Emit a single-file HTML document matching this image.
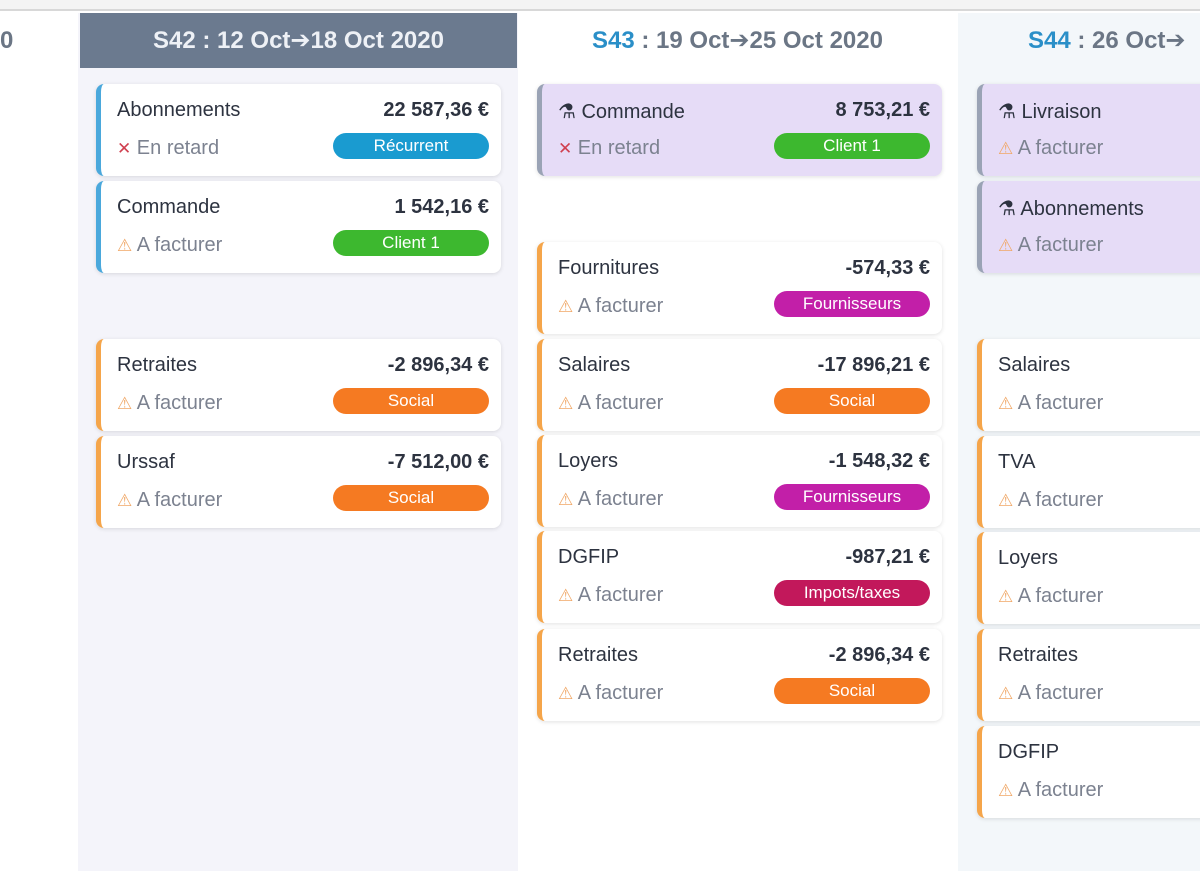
<!DOCTYPE html>
<html><head><meta charset="utf-8"><style>
*{box-sizing:border-box;margin:0;padding:0}
body{width:1200px;height:871px;overflow:hidden;background:#fff;font-family:"Liberation Sans","DejaVu Sans",sans-serif;position:relative}
.top{position:absolute;left:0;top:0;width:1200px;height:11px;background:#f4f4f4;border-bottom:2px solid #d8d8d8}
.col{position:absolute;top:13px;height:858px}
.hd{position:absolute;top:13px;height:55px;line-height:55px;font-size:24px;font-weight:bold;text-align:center;color:#6b7685}
.hd b{color:#2a8fc8}
.card{position:absolute;height:92px;background:#fff;border-radius:8px;border-left:5px solid #f5a54a;box-shadow:0 1px 4px rgba(0,0,0,.12)}
.card.blue{border-left-color:#4aa8dc}
.card.pur{background:#e6dcf7;border-left-color:#9aa3b5}
.t{position:absolute;left:16px;top:15px;font-size:20px;color:#2d3340}
.a{position:absolute;right:12px;top:15px;font-size:20px;font-weight:bold;color:#2d3340}
.s{position:absolute;left:16px;top:53px;font-size:20px;color:#7c8290}
.s i{font-style:normal;color:#f0a868;font-size:17px}
.s i.x{color:#d04050}
.bg{position:absolute;right:12px;top:49px;width:156px;height:26px;border-radius:13px;color:#fff;font-size:17px;text-align:center;line-height:26px}
</style></head><body>
<div class="top"></div>
<div class="col" style="left:78px;width:440px;background:#f4f4fa"></div>
<div class="col" style="left:958px;width:242px;background:#f3f7fa"></div>
<div style="position:absolute;left:0;top:13px;font-size:24px;font-weight:bold;color:#6b7685;line-height:55px">0</div>
<div class="hd" style="left:80px;width:437px;background:#6b7a8f;color:#eef1f6">S42 : 12 Oct➔18 Oct 2020</div>
<div class="hd" style="left:517px;width:441px"><b>S43</b> : 19 Oct➔25 Oct 2020</div>
<div class="hd" style="left:1028px;width:300px;text-align:left"><b>S44</b> : 26 Oct➔</div>

<div class="card blue" style="left:96px;top:84px;width:405px"><span class="t">Abonnements</span><span class="a">22 587,36 €</span><span class="s"><i class="x">✕</i> En retard</span><span class="bg" style="background:#1a9bd0">Récurrent</span></div>
<div class="card blue" style="left:96px;top:181px;width:405px"><span class="t">Commande</span><span class="a">1 542,16 €</span><span class="s"><i>⚠</i> A facturer</span><span class="bg" style="background:#3db82f">Client 1</span></div>
<div class="card" style="left:96px;top:339px;width:405px"><span class="t">Retraites</span><span class="a">-2 896,34 €</span><span class="s"><i>⚠</i> A facturer</span><span class="bg" style="background:#f57a22">Social</span></div>
<div class="card" style="left:96px;top:436px;width:405px"><span class="t">Urssaf</span><span class="a">-7 512,00 €</span><span class="s"><i>⚠</i> A facturer</span><span class="bg" style="background:#f57a22">Social</span></div>

<div class="card pur" style="left:537px;top:84px;width:405px"><span class="t">⚗ Commande</span><span class="a">8 753,21 €</span><span class="s"><i class="x">✕</i> En retard</span><span class="bg" style="background:#3db82f">Client 1</span></div>
<div class="card" style="left:537px;top:242px;width:405px"><span class="t">Fournitures</span><span class="a">-574,33 €</span><span class="s"><i>⚠</i> A facturer</span><span class="bg" style="background:#c21fa8">Fournisseurs</span></div>
<div class="card" style="left:537px;top:339px;width:405px"><span class="t">Salaires</span><span class="a">-17 896,21 €</span><span class="s"><i>⚠</i> A facturer</span><span class="bg" style="background:#f57a22">Social</span></div>
<div class="card" style="left:537px;top:435px;width:405px"><span class="t">Loyers</span><span class="a">-1 548,32 €</span><span class="s"><i>⚠</i> A facturer</span><span class="bg" style="background:#c21fa8">Fournisseurs</span></div>
<div class="card" style="left:537px;top:531px;width:405px"><span class="t">DGFIP</span><span class="a">-987,21 €</span><span class="s"><i>⚠</i> A facturer</span><span class="bg" style="background:#c2185b">Impots/taxes</span></div>
<div class="card" style="left:537px;top:629px;width:405px"><span class="t">Retraites</span><span class="a">-2 896,34 €</span><span class="s"><i>⚠</i> A facturer</span><span class="bg" style="background:#f57a22">Social</span></div>

<div class="card pur" style="left:977px;top:84px;width:300px"><span class="t">⚗ Livraison</span><span class="s"><i>⚠</i> A facturer</span></div>
<div class="card pur" style="left:977px;top:181px;width:300px"><span class="t">⚗ Abonnements</span><span class="s"><i>⚠</i> A facturer</span></div>
<div class="card" style="left:977px;top:339px;width:300px"><span class="t">Salaires</span><span class="s"><i>⚠</i> A facturer</span></div>
<div class="card" style="left:977px;top:436px;width:300px"><span class="t">TVA</span><span class="s"><i>⚠</i> A facturer</span></div>
<div class="card" style="left:977px;top:532px;width:300px"><span class="t">Loyers</span><span class="s"><i>⚠</i> A facturer</span></div>
<div class="card" style="left:977px;top:629px;width:300px"><span class="t">Retraites</span><span class="s"><i>⚠</i> A facturer</span></div>
<div class="card" style="left:977px;top:726px;width:300px"><span class="t">DGFIP</span><span class="s"><i>⚠</i> A facturer</span></div>
</body></html>
